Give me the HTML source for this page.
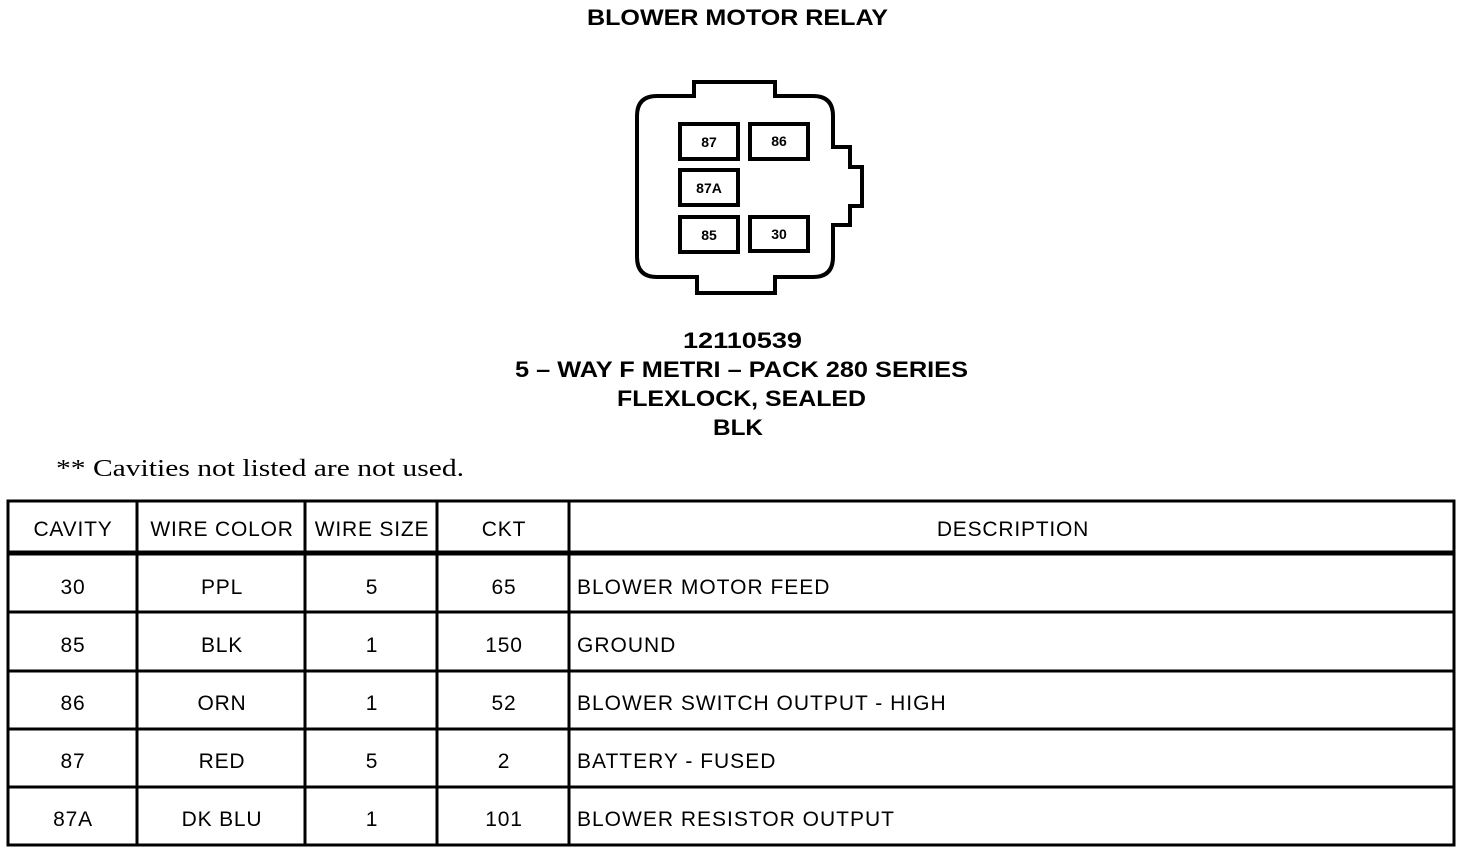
<!DOCTYPE html>
<html><head><meta charset="utf-8"><style>
html,body{margin:0;padding:0;background:#fff;}
svg{display:block;}
.t{font-family:"Liberation Sans",Arial,sans-serif;fill:#000;}
</style></head><body>
<svg width="1472" height="854" viewBox="0 0 1472 854" xmlns="http://www.w3.org/2000/svg">
<text class="t" x="587" y="25" font-size="22" font-weight="bold" textLength="301" lengthAdjust="spacingAndGlyphs">BLOWER MOTOR RELAY</text>
<path d="M694,82 H775 V96 H813 Q833,96 833,116 V147 H850 V167 H862 V206 H850 V225 H833 V257 Q833,277 813,277 H775 V293 H697 V277 H657 Q637,277 637,257 V116 Q637,96 657,96 H694 Z" fill="none" stroke="#000" stroke-width="4"/>
<g fill="none" stroke="#000" stroke-width="4">
<rect x="680" y="124" width="58" height="35"/>
<rect x="750" y="124" width="58" height="35"/>
<rect x="680" y="170" width="58" height="35"/>
<rect x="680" y="217" width="58" height="35"/>
<rect x="750" y="217" width="58" height="34"/>
</g>
<g class="t" font-size="14" font-weight="bold" text-anchor="middle">
<text x="709" y="147">87</text><text x="779" y="146">86</text>
<text x="709" y="193">87A</text><text x="709" y="240">85</text><text x="779" y="239">30</text>
</g>
<g class="t" font-size="22" font-weight="bold">
<text x="683" y="348" textLength="119" lengthAdjust="spacingAndGlyphs">12110539</text>
<text x="515" y="377" textLength="453" lengthAdjust="spacingAndGlyphs">5 – WAY F METRI – PACK 280 SERIES</text>
<text x="617" y="406" textLength="249" lengthAdjust="spacingAndGlyphs">FLEXLOCK, SEALED</text>
<text x="713" y="435" textLength="50" lengthAdjust="spacingAndGlyphs">BLK</text>
</g>
<text x="56" y="476" font-family="'Liberation Serif',serif" font-size="24" textLength="408" lengthAdjust="spacingAndGlyphs">** Cavities not listed are not used.</text>
<g stroke="#000" fill="none">
<rect x="8" y="501" width="1446" height="344" stroke-width="3"/>
<line x1="8" y1="553" x2="1454" y2="553" stroke-width="5"/>
<line x1="8" y1="612" x2="1454" y2="612" stroke-width="3"/>
<line x1="8" y1="671" x2="1454" y2="671" stroke-width="3"/>
<line x1="8" y1="729" x2="1454" y2="729" stroke-width="3"/>
<line x1="8" y1="787" x2="1454" y2="787" stroke-width="3"/>
<line x1="137" y1="501" x2="137" y2="845" stroke-width="3"/>
<line x1="305" y1="501" x2="305" y2="845" stroke-width="3"/>
<line x1="437" y1="501" x2="437" y2="845" stroke-width="3"/>
<line x1="569" y1="501" x2="569" y2="845" stroke-width="3"/>
</g>
<g class="t" font-size="21" letter-spacing="0.8" text-anchor="middle">
<text x="73" y="536">CAVITY</text><text x="222" y="536">WIRE COLOR</text><text x="372" y="536">WIRE SIZE</text><text x="504" y="536">CKT</text><text x="1013" y="536">DESCRIPTION</text>
<text x="73" y="594">30</text><text x="222" y="594">PPL</text><text x="372" y="594">5</text><text x="504" y="594">65</text>
<text x="73" y="652">85</text><text x="222" y="652">BLK</text><text x="372" y="652">1</text><text x="504" y="652">150</text>
<text x="73" y="710">86</text><text x="222" y="710">ORN</text><text x="372" y="710">1</text><text x="504" y="710">52</text>
<text x="73" y="768">87</text><text x="222" y="768">RED</text><text x="372" y="768">5</text><text x="504" y="768">2</text>
<text x="73" y="826">87A</text><text x="222" y="826">DK BLU</text><text x="372" y="826">1</text><text x="504" y="826">101</text>
</g>
<g class="t" font-size="21" letter-spacing="1">
<text x="577" y="594">BLOWER MOTOR FEED</text>
<text x="577" y="652">GROUND</text>
<text x="577" y="710">BLOWER SWITCH OUTPUT - HIGH</text>
<text x="577" y="768">BATTERY - FUSED</text>
<text x="577" y="826">BLOWER RESISTOR OUTPUT</text>
</g>
</svg>
</body></html>
